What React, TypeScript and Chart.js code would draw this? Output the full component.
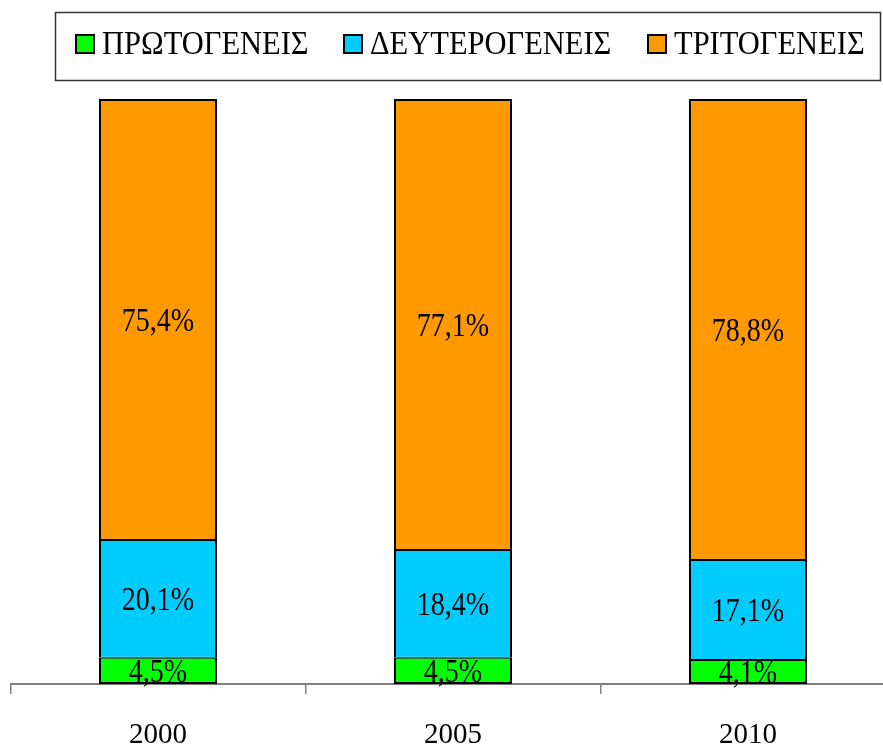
import React, { useEffect, useRef } from "react";
import { Chart, registerables } from "chart.js";

Chart.register(...registerables);

const categories = ["2000", "2005", "2010"];
const seriesLabels = ["ΠΡΩΤΟΓΕΝΕΙΣ", "ΔΕΥΤΕΡΟΓΕΝΕΙΣ", "ΤΡΙΤΟΓΕΝΕΙΣ"];
const primary = [4.5, 4.5, 4.1];
const secondary = [20.1, 18.4, 17.1];
const tertiary = [75.4, 77.1, 78.8];
const seriesColors = ["#00FF00", "#00CCFF", "#FF9900"];

const FONT_FAMILY = "'Liberation Serif', 'Times New Roman', serif";

const fmt = (v: number) => v.toFixed(1).replace(".", ",") + "%";

const dataLabelPlugin = {
  id: "dataLabels",
  afterDatasetsDraw(chart: any) {
    const ctx = chart.ctx;
    ctx.save();
    ctx.fillStyle = "#000";
    ctx.font = `28px ${FONT_FAMILY}`;
    ctx.textAlign = "center";
    ctx.textBaseline = "middle";
    chart.data.datasets.forEach((ds: any, di: number) => {
      const meta = chart.getDatasetMeta(di);
      meta.data.forEach((el: any, i: number) => {
        const v = ds.data[i];
        const cy = (el.y + el.base) / 2;
        ctx.save();
        ctx.translate(el.x, cy);
        ctx.scale(1, 1.18);
        ctx.fillText(fmt(v), 0, 2);
        ctx.restore();
      });
    });
    ctx.restore();
  },
};

// left edges of the legend swatches (layout constants)
const LEGEND_ITEM_X = [75, 343, 647];

const boxedLegendPlugin = {
  id: "boxedLegend",
  afterDraw(chart: any) {
    const ctx = chart.ctx;
    ctx.save();
    ctx.strokeStyle = "#333";
    ctx.lineWidth = 1.5;
    ctx.strokeRect(55.5, 12.5, 825, 68);
    ctx.font = `30.5px ${FONT_FAMILY}`;
    ctx.textBaseline = "middle";
    ctx.textAlign = "left";
    const cy = 44;
    chart.data.datasets.forEach((ds: any, i: number) => {
      const x = LEGEND_ITEM_X[i];
      ctx.fillStyle = ds.backgroundColor;
      ctx.fillRect(x, cy - 10, 20, 20);
      ctx.strokeStyle = "#000";
      ctx.lineWidth = 2;
      ctx.strokeRect(x + 1, cy - 9, 18, 18);
      ctx.fillStyle = "#000";
      const tx = x + 27;
      ctx.save();
      ctx.translate(tx, cy + 1);
      ctx.scale(1, 1.08);
      ctx.fillText(ds.label, 0, 0);
      ctx.restore();
    });
    ctx.restore();
  },
};

export default function App() {
  const ref = useRef<HTMLCanvasElement | null>(null);
  useEffect(() => {
    if (!ref.current) return;
    const chart = new Chart(ref.current, {
      type: "bar",
      data: {
        labels: categories,
        datasets: [primary, secondary, tertiary].map((d, i) => ({
          label: seriesLabels[i],
          data: d,
          backgroundColor: seriesColors[i],
          borderColor: "#000",
          borderWidth: {
            left: 2,
            right: 2,
            top: i === 2 ? 2 : 1,
            bottom: i === 0 ? 2 : 1,
          },
          borderSkipped: false,
          barPercentage: 0.4,
          categoryPercentage: 1,
        })),
      },
      options: {
        responsive: false,
        animation: false,
        layout: { padding: { top: 99, left: 10.5, right: 10.5, bottom: 0 } },
        plugins: {
          legend: { display: false },
          tooltip: { enabled: false },
        },
        scales: {
          x: {
            stacked: true,
            offset: true,
            afterFit: (scale: any) => {
              scale.height = 63;
            },
            grid: {
              display: true,
              offset: true,
              drawOnChartArea: false,
              drawTicks: true,
              tickLength: 10,
              color: "#808080",
              lineWidth: 1.5,
            },
            border: { display: true, color: "#808080", width: 2 },
            ticks: {
              color: "#000",
              padding: 24,
              font: { family: FONT_FAMILY, size: 29 },
            },
          },
          y: {
            stacked: true,
            display: false,
            min: 0,
            max: 100,
          },
        },
      },
      plugins: [dataLabelPlugin, boxedLegendPlugin],
    });
    return () => chart.destroy();
  }, []);
  return (
    <div
      style={{
        position: "fixed",
        left: 0,
        top: 0,
        width: 883,
        height: 747,
        overflow: "hidden",
        background: "#fff",
      }}
    >
      <canvas ref={ref} width={906} height={747} style={{ width: 906, height: 747, display: "block" }} />
    </div>
  );
}
